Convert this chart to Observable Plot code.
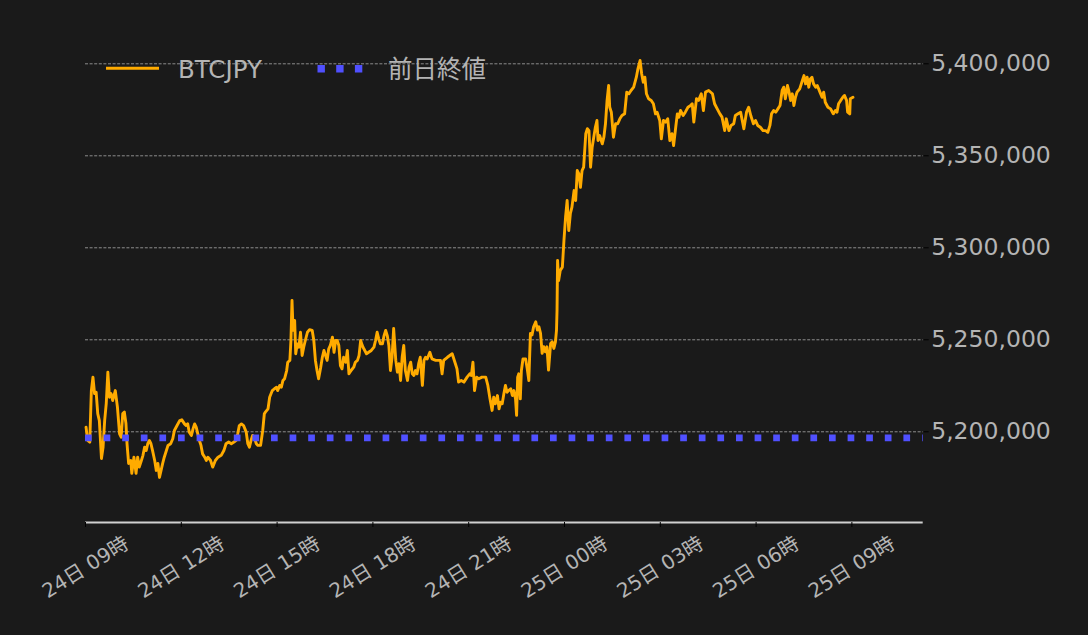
<!DOCTYPE html>
<html>
<head>
<meta charset="utf-8">
<script src="https://cdn.jsdelivr.net/npm/d3@7"></script>
<script src="https://cdn.jsdelivr.net/npm/@observablehq/plot@0.6"></script>
<style>
  html, body { margin: 0; padding: 0; background: #1a1a1a; }
  #wrap { position: relative; width: 1088px; height: 635px; background: #1a1a1a;
          font-family: "DejaVu Sans", "Noto Sans CJK JP", sans-serif; }
  #legend { position: absolute; left: 0; top: 0; pointer-events: none; }
</style>
</head>
<body>
<div id="wrap">
  <div id="chart"></div>
  <svg id="legend" width="1088" height="100"></svg>
</div>
<script>
// ---- data ----
const seriesName = "BTCJPY";
const prevCloseName = "前日終値";
const startTime = "2024-06-24T09:00:00Z";   // 24日 09時
const domainEndMinutes = 1574;              // right end of the time axis
const tickLabelsHours = [0, 3, 6, 9, 12, 15, 18, 21, 24]; // hours after 24日 09時
const yTicks = [5200000, 5250000, 5300000, 5350000, 5400000];
const yDomain = [5150700, 5420000];
const prevClose = 5196700;

// minutes after 24日 09:00
const minutes = [
  1,4,8,11,14,17,20,23,26,30,
  33,36,39,42,45,48,51,56,60,64,
  67,70,73,76,78,81,85,87,91,95,
  98,101,105,108,111,114,117,120,123,126,
  130,133,136,139,142,145,148,152,155,160,
  164,167,172,177,181,186,189,192,195,199,
  202,205,208,211,214,217,220,224,227,230,
  235,239,244,249,255,260,264,269,274,279,
  283,286,289,293,297,302,305,308,311,314,
  318,321,324,329,333,336,338,343,346,351,
  355,359,361,365,368,371,374,378,380,384,
  386,388,390,393,395,398,401,404,407,410,
  413,417,421,426,429,432,435,438,442,445,
  448,451,454,457,460,464,467,470,473,476,
  479,482,485,489,492,495,499,504,507,511,
  514,517,520,523,528,532,537,542,545,548,
  551,554,558,561,564,567,570,573,576,579,
  583,586,589,592,595,598,601,605,608,611,
  614,617,620,623,626,629,633,636,639,642,
  647,651,658,664,667,670,673,680,689,695,
  698,701,706,711,717,722,725,728,731,735,
  739,745,752,756,760,764,767,770,774,777,
  780,783,786,789,792,795,799,802,805,808,
  810,812,814,817,819,822,827,830,833,836,
  839,842,846,849,852,855,858,861,864,867,
  870,874,877,880,883,885,886,887,889,892,
  896,899,902,905,908,911,914,918,921,924,
  927,930,933,936,940,943,946,949,952,955,
  958,961,963,966,971,974,977,980,983,985,
  988,992,996,1000,1004,1008,1013,1017,1021,1025,
  1030,1035,1038,1042,1045,1048,1051,1054,1058,1063,
  1067,1071,1074,1079,1082,1086,1090,1094,1098,1102,
  1105,1109,1112,1115,1118,1123,1127,1132,1137,1140,
  1143,1148,1152,1157,1161,1165,1171,1178,1182,1187,
  1192,1196,1201,1204,1209,1213,1218,1221,1226,1231,
  1234,1237,1242,1246,1250,1255,1259,1263,1268,1273,
  1278,1282,1286,1289,1293,1297,1301,1305,1309,1312,
  1315,1319,1322,1325,1328,1331,1334,1337,1342,1347,
  1350,1353,1356,1359,1362,1365,1368,1372,1375,1380,
  1384,1387,1390,1395,1400,1405,1409,1412,1415,1419,
  1423,1426,1430,1432,1436,1437,1442
];

// price in thousands of yen
const priceK = [
  5202.5,5195.3,5194.4,5222.4,5229.7,5220.8,5221.5,5209.9,5206.1,5185.5,
  5191.6,5206.1,5215.4,5232.4,5218.8,5220.8,5217,5222.4,5213.4,5198.9,
  5197.1,5209.9,5210.7,5204.5,5193.6,5182.8,5184.4,5177.4,5186.2,5177.4,
  5186.2,5180.8,5184.4,5187.2,5191.6,5189.8,5193.5,5195.3,5193.5,5189.8,
  5184.4,5179,5182.8,5175.2,5179,5182.8,5186.2,5189.8,5192.6,5193.5,
  5196.2,5200.7,5203.4,5206.1,5206.5,5204.3,5203.4,5204.3,5199.8,5198,
  5201.6,5204.3,5202.5,5198.9,5195.3,5192.6,5188,5186.2,5184.4,5186.2,
  5184.4,5180.8,5184.4,5186.2,5187.2,5189.8,5193.5,5194.4,5193.5,5194.4,
  5195.3,5198.9,5203.4,5204.3,5203.4,5199.8,5193.5,5191.6,5195.3,5198,
  5196.2,5193.5,5192.6,5192.6,5200.7,5209.8,5210.7,5212.5,5218.8,5222.4,
  5223.4,5224.2,5222.4,5225.2,5224.2,5227.9,5228.8,5233.3,5237.8,5238.8,
  5249.6,5271.4,5255.1,5260.5,5242.4,5247.8,5246,5254.1,5241.5,5246,
  5249.6,5254.1,5255.5,5255.1,5249.6,5238.8,5233.3,5228.8,5235.1,5240.5,
  5244.2,5241.5,5238.8,5245.1,5246.9,5251.4,5243.2,5249.6,5249.6,5246.9,
  5236,5234.2,5240.5,5237.8,5244.2,5231.5,5233.3,5235.1,5237.8,5238.8,
  5241.5,5249.6,5246.9,5245.1,5242.4,5243.2,5244.2,5246,5249.6,5254.1,
  5250.5,5247.8,5247.8,5252.3,5255.1,5252.3,5246.9,5233.3,5240.5,5256.1,
  5238.8,5232.4,5237,5227.9,5240.5,5246.9,5233.3,5227.9,5235.1,5237.8,
  5231.5,5230.6,5233.3,5231.5,5237,5240.5,5225.2,5238.8,5240.5,5239.6,
  5243.2,5239.6,5238.8,5238.8,5238.8,5231.5,5238.8,5240.5,5242.4,5237,
  5234.2,5227,5227.9,5227,5229.7,5231.5,5230.6,5237.8,5222.4,5229.7,
  5228.8,5229.7,5229.7,5225.2,5217.9,5211.6,5218.8,5215.2,5219.7,5212.5,
  5216.1,5215.2,5220.5,5225.2,5221.5,5222.4,5223.4,5219.7,5222.4,5217.9,
  5208.9,5229.7,5231.5,5217.9,5233.3,5239.6,5239.6,5234.2,5227.9,5253.5,
  5252.6,5257.1,5259.8,5255.3,5257.1,5253.5,5242.6,5246.2,5243.5,5246.2,
  5233.5,5248,5248.9,5245.3,5248.9,5255.3,5266,5293.1,5282.2,5287.7,
  5289.5,5304,5316.6,5325.7,5309.4,5318.5,5322.1,5331.1,5325.7,5342,
  5340.2,5332.9,5342,5343.8,5362,5364.7,5363.7,5343.8,5354.7,5360.1,
  5365.5,5369.2,5358.3,5361,5356.5,5360.1,5367.4,5380.1,5388.2,5376.4,
  5373.7,5360.1,5367.4,5367.4,5370.1,5371.9,5372.8,5384.6,5383.7,5385.5,
  5387.3,5392.7,5397.3,5401.8,5394.6,5390,5392.7,5383.7,5381,5380.1,
  5378.3,5372.8,5373.7,5369.2,5359.2,5369.2,5368.3,5370.1,5358.3,5362,
  5355.6,5365.5,5372.8,5371,5374.6,5371.9,5373.7,5376.4,5377.3,5378.3,
  5368.3,5381,5380.1,5383.7,5374.6,5384.6,5385.5,5383.7,5378.3,5375.5,
  5372.8,5371,5363.7,5370.1,5363.7,5366.5,5367.4,5371.9,5372.8,5373.7,
  5369.2,5364.7,5373.7,5376.4,5371.9,5367.4,5369.2,5366.5,5365.5,5363.7,
  5363.7,5362.8,5366.5,5372.8,5374.6,5373.7,5375.5,5377.3,5385.5,5387.3,
  5381,5388.2,5384.6,5380.1,5383.7,5377.3,5381.8,5384.6,5386.4,5390.9,
  5393.6,5389.1,5392.7,5387.3,5391.8,5392.7,5389.1,5387.3,5388.2,5384.6,
  5381.8,5384.6,5379.1,5376.4,5375.5,5372.8,5374.6,5373.7,5378.3,5380.1,
  5381.8,5382.8,5380.1,5373.7,5372.8,5381,5381.8
];

// ---- styles ----
const lineColor = "#ffab00";
const prevColor = "#5050ff";
const textColor = "#b4b4b4";

const t0 = new Date(startTime).getTime();
const n = Math.min(minutes.length, priceK.length);
const data = d3.range(n).map(i => ({time: new Date(t0 + minutes[i] * 60000), price: priceK[i] * 1000}));
const xTicks = tickLabelsHours.map(h => new Date(t0 + h * 3600000));
const xDomain = [new Date(t0), new Date(t0 + domainEndMinutes * 60000)];

const chart = Plot.plot({
  width: 1088,
  height: 635,
  marginLeft: 85,
  marginRight: 165.3,
  marginTop: 26.5,
  marginBottom: 113,
  style: {background: "#1a1a1a", color: textColor, fontFamily: '"DejaVu Sans", "Noto Sans CJK JP", sans-serif', fontSize: "23px"},
  x: {type: "utc", domain: xDomain},
  y: {domain: yDomain},
  marks: [
    Plot.gridY(yTicks, {stroke: "#aaaaaa", strokeOpacity: 1, strokeWidth: 0.8, strokeDasharray: "3,1.6"}),
    Plot.line(data, {x: "time", y: "price", stroke: lineColor, strokeWidth: 2.9, strokeLinejoin: "round"}),
    Plot.ruleY([prevClose], {stroke: prevColor, strokeWidth: 6.7, strokeDasharray: "6.7,11.9"}),
    Plot.ruleY([yDomain[0]], {stroke: "#d0d0d0", strokeWidth: 2}),
    Plot.axisY(yTicks, {anchor: "right", tickSize: 5, tickPadding: 3, stroke: "#000", fill: textColor,
      fontSize: 23.5, tickFormat: d3.format(","), label: null}),
    Plot.axisX(xTicks, {anchor: "bottom", tickSize: 5, tickPadding: 40, tickRotate: -32,
      textAnchor: "middle", lineAnchor: "middle", stroke: "#000", fill: textColor, fontSize: 20,
      tickFormat: d3.utcFormat("%d日 %H時"), label: null})
  ]
});
document.getElementById("chart").appendChild(chart);

// ---- legend overlay ----
const lg = d3.select("#legend");
lg.append("line").attr("x1", 106).attr("x2", 159).attr("y1", 68.3).attr("y2", 68.3)
  .attr("stroke", lineColor).attr("stroke-width", 3);
lg.append("text").attr("x", 178).attr("y", 78).attr("fill", textColor)
  .attr("font-size", 24.5).attr("font-family", '"DejaVu Sans", "Noto Sans CJK JP", sans-serif').text(seriesName);
lg.append("line").attr("x1", 317.5).attr("x2", 364).attr("y1", 68.7).attr("y2", 68.7)
  .attr("stroke", prevColor).attr("stroke-width", 7.4).attr("stroke-dasharray", "7.4,11.3");
lg.append("text").attr("x", 388).attr("y", 78).attr("fill", textColor)
  .attr("font-size", 24.5).attr("font-family", '"DejaVu Sans", "Noto Sans CJK JP", sans-serif').text(prevCloseName);
</script>
</body>
</html>
